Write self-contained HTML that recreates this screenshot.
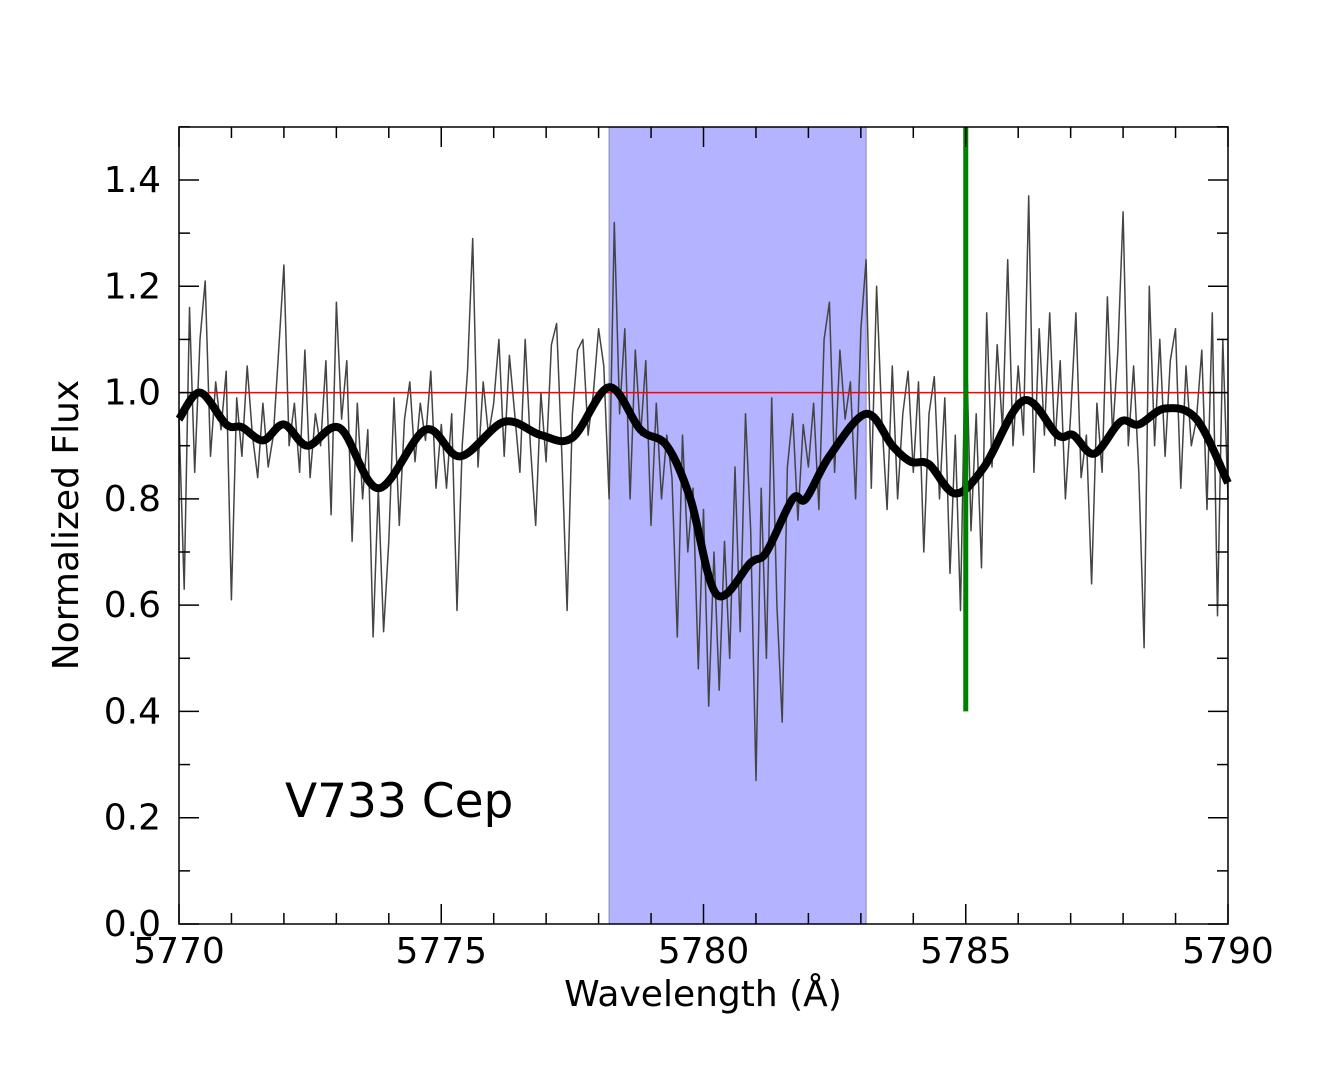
<!DOCTYPE html>
<html><head><meta charset="utf-8"><style>
html,body{margin:0;padding:0;background:#fff;}
svg{display:block;font-family:"DejaVu Sans","Liberation Sans",sans-serif;}
</style></head><body>
<svg id="chart" width="1333" height="1066" viewBox="0 0 1333 1066" xmlns="http://www.w3.org/2000/svg">
<g id="plot"></g>
</svg>
<script>
const xTicks=[5770,5775,5780,5785,5790];
const yTicks=[0.0,0.2,0.4,0.6,0.8,1.0,1.2,1.4];
const bandRange=[5778.2,5783.1];
const markerWave=5785.0;
const markerBottom=0.4;
const continuum=1.0;
const rawStart=5770, rawStep=0.1;
const rawFlux=[0.95,0.63,1.16,0.85,1.10,1.21,0.88,1.02,0.93,1.04,
0.61,0.99,0.88,1.05,0.92,0.84,0.98,0.86,0.92,1.08,
1.24,0.90,0.98,0.85,1.08,0.84,0.96,0.90,1.06,0.77,
1.17,0.95,1.06,0.72,0.98,0.80,0.93,0.54,0.82,0.55,
0.72,0.99,0.75,0.95,1.02,0.87,0.98,0.91,1.04,0.82,
0.94,0.82,0.96,0.59,0.90,1.04,1.29,0.86,1.02,0.92,
0.98,1.10,0.88,1.07,0.96,0.85,1.10,0.90,0.75,1.00,
0.87,1.09,1.13,0.88,0.59,0.96,1.08,1.10,0.92,1.00,
1.12,1.05,0.80,1.32,0.96,1.12,0.80,1.08,0.92,1.06,
0.75,0.98,0.80,0.92,0.84,0.54,0.92,0.70,0.82,0.48,
0.78,0.41,0.70,0.44,0.72,0.50,0.86,0.55,0.96,0.74,
0.27,0.82,0.50,0.99,0.60,0.38,0.86,0.96,0.76,0.94,
0.86,0.98,0.78,1.10,1.17,0.85,1.08,0.95,1.02,0.80,
1.12,1.25,0.82,1.20,0.95,0.78,1.05,0.80,0.96,1.04,
0.85,1.02,0.70,0.96,1.03,0.80,0.99,0.66,0.92,0.59,
1.14,0.74,0.96,0.67,1.15,0.86,1.09,0.93,1.25,0.90,
1.05,0.92,1.37,0.85,1.12,0.92,1.15,0.90,1.06,0.80,
0.96,1.15,0.84,0.92,0.64,0.98,0.85,1.18,0.92,1.08,
1.34,0.90,1.05,0.85,0.52,1.20,0.90,1.10,0.88,1.06,
1.12,0.82,1.05,0.90,0.95,1.08,0.78,1.15,0.58,1.10,0.80];
const smoothWave=[5770,5770.4,5770.9,5771.2,5771.6,5772,5772.45,5773.07,5773.8,5774.7,5775.36,5776.2,5776.9,5777.5,5778.2,5778.8,5779.3,5779.75,5780.25,5780.9,5781.2,5781.7,5781.95,5782.4,5783.1,5783.6,5783.95,5784.3,5784.8,5785.35,5786.1,5786.75,5787.05,5787.45,5787.95,5788.3,5788.8,5789.4,5790];
const smoothFlux=[0.95,1.0,0.94,0.935,0.91,0.94,0.90,0.933,0.82,0.93,0.88,0.945,0.92,0.915,1.01,0.93,0.90,0.80,0.62,0.68,0.70,0.80,0.80,0.88,0.96,0.90,0.87,0.865,0.81,0.86,0.985,0.92,0.92,0.885,0.945,0.94,0.97,0.95,0.83];

const X0=179,X1=1228,Y0=924,YTOP=127;
const xs=w=>X0+(w-5770)/(5790-5770)*(X1-X0);
const ys=f=>Y0-f/1.4*(924-180);
const NS="http://www.w3.org/2000/svg";
const g=document.getElementById('plot');
function mk(t,a){const e=document.createElementNS(NS,t);for(const k in a)e.setAttribute(k,a[k]);g.appendChild(e);return e;}

let e=mk('rect',{x:xs(bandRange[0]),y:YTOP,width:xs(bandRange[1])-xs(bandRange[0]),height:Y0-YTOP,fill:'#b3b3ff',stroke:'#8888aa','stroke-width':1});


let d='';rawFlux.forEach((f,i)=>{d+=(i?'L':'M')+xs(rawStart+i*rawStep).toFixed(1)+','+ys(f).toFixed(1);});
e=mk('path',{d:d,fill:'none',stroke:'#444','stroke-width':1.5,'stroke-linejoin':'round'});


e=mk('line',{x1:X0,x2:X1,y1:ys(continuum),y2:ys(continuum),stroke:'#ff0000','stroke-width':1.5});


const P=smoothWave.map((w,i)=>[xs(w),ys(smoothFlux[i])]);
d='M'+P[0][0]+','+P[0][1];
for(let i=0;i<P.length-1;i++){const p0=P[Math.max(0,i-1)],p1=P[i],p2=P[i+1],p3=P[Math.min(P.length-1,i+2)];
d+='C'+(p1[0]+(p2[0]-p0[0])/6)+','+(p1[1]+(p2[1]-p0[1])/6)+' '+(p2[0]-(p3[0]-p1[0])/6)+','+(p2[1]-(p3[1]-p1[1])/6)+' '+p2[0]+','+p2[1];}
e=mk('path',{d:d,fill:'none',stroke:'#000','stroke-width':8,'stroke-linejoin':'round'});


e=mk('line',{x1:xs(markerWave),x2:xs(markerWave),y1:YTOP,y2:ys(markerBottom),stroke:'#008000','stroke-width':5});


e=mk('rect',{x:X0,y:YTOP,width:X1-X0,height:Y0-YTOP,fill:'none',stroke:'#000','stroke-width':1.5});


for(let w=5770;w<=5790;w++){const L=(w%5===0)?20:11;const x=xs(w);
mk('line',{x1:x,x2:x,y1:Y0,y2:Y0-L,stroke:'#000','stroke-width':1.5});
mk('line',{x1:x,x2:x,y1:YTOP,y2:YTOP+L,stroke:'#000','stroke-width':1.5});}
for(let k=0;k<=15;k++){const f=k/10;const L=(k%2===0)?20:11;const y=ys(f);
mk('line',{x1:X0,x2:X0+L,y1:y,y2:y,stroke:'#000','stroke-width':1.5});
mk('line',{x1:X1,x2:X1-L,y1:y,y2:y,stroke:'#000','stroke-width':1.5});}
xTicks.forEach(w=>{e=mk('text',{x:xs(w),y:963,'text-anchor':'middle','font-size':36});e.textContent=w;
});
yTicks.forEach(f=>{e=mk('text',{x:161,y:ys(f)+12,'text-anchor':'end','font-size':36});e.textContent=f.toFixed(1);
});
e=mk('text',{x:703,y:1006,'text-anchor':'middle','font-size':36});e.textContent='Wavelength (Å)';

e=mk('text',{x:0,y:0,'text-anchor':'middle','font-size':36,transform:'translate(78,525) rotate(-90)'});e.textContent='Normalized Flux';

e=mk('text',{x:285,y:817,'font-size':47});e.textContent='V733 Cep';

</script>
</body></html>
